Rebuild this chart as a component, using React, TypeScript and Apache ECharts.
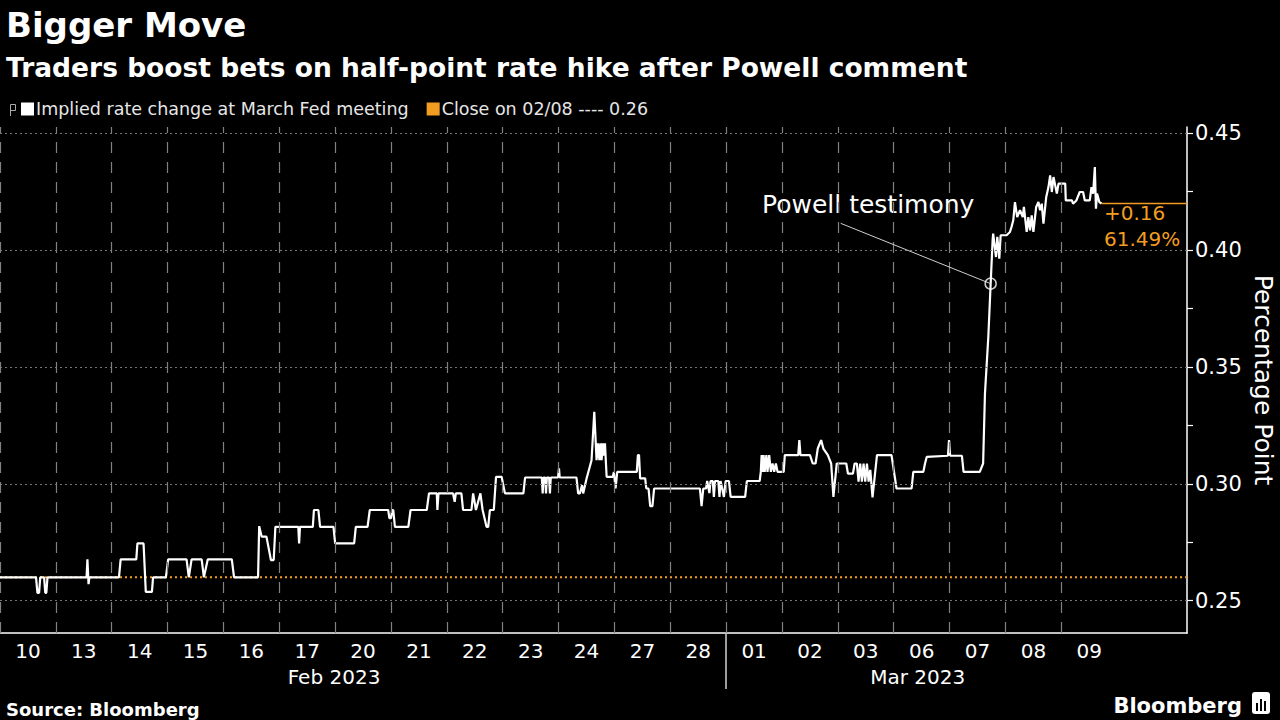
import React, { useEffect, useRef } from "react";
import * as echarts from "echarts";

// ---- data ----
const dayLabels = ["10","13","14","15","16","17","20","21","22","23","24","27","28","01","02","03","06","07","08","09"];
const monthLabels = ["Feb 2023", "Mar 2023"];
const monthCenters = [5.98, 16.43];
const monthBoundary = 13;
const closeValue = 0.26;
const yLabelValues = [0.25, 0.3, 0.35, 0.4, 0.45];

// implied rate change (day offset from Feb 10 open, value in percentage points)
const implied: [number, number][] = [
  [0,0.26],[0.645,0.26],[0.67,0.2534],[0.70,0.2534],[0.72,0.26],
  [0.79,0.26],[0.81,0.2534],[0.83,0.2534],[0.85,0.26],
  [1.55,0.26],[1.565,0.2677],[1.585,0.2571],[1.60,0.26],
  [2.13,0.26],[2.16,0.2677],[2.44,0.2677],[2.46,0.2745],[2.57,0.2745],[2.61,0.2538],
  [2.72,0.2538],[2.74,0.26],[2.97,0.26],[3.01,0.2677],[3.34,0.2677],[3.38,0.26],[3.43,0.2677],
  [3.61,0.2677],[3.65,0.26],[3.72,0.2677],[4.15,0.2677],[4.19,0.26],
  [4.62,0.26],[4.64,0.2819],[4.685,0.2774],[4.77,0.2774],[4.85,0.2674],[4.90,0.2674],[4.93,0.2816],
  [5.34,0.2816],[5.355,0.2745],[5.37,0.2816],[5.60,0.2816],[5.62,0.2888],[5.70,0.2888],[5.73,0.2816],
  [5.97,0.2816],[6.00,0.2745],[6.34,0.2745],[6.37,0.2816],[6.58,0.2816],[6.62,0.2888],
  [6.95,0.2888],[6.97,0.2853],[7.00,0.2853],[7.02,0.2888],[7.04,0.2888],[7.07,0.2816],
  [7.31,0.2816],[7.35,0.2888],[7.64,0.2888],[7.68,0.2959],[7.82,0.2959],[7.83,0.2888],[7.85,0.2959],
  [8.11,0.2959],[8.14,0.2923],[8.16,0.2959],[8.26,0.2959],[8.29,0.2888],[8.44,0.2888],[8.47,0.2959],
  [8.52,0.2888],[8.60,0.2959],[8.64,0.2888],[8.71,0.2816],[8.74,0.2816],[8.77,0.2888],
  [8.84,0.2888],[8.88,0.3030],[8.98,0.3030],[9.04,0.2959],[9.37,0.2959],[9.40,0.3027],
  [9.70,0.3027],[9.715,0.2959],[9.73,0.3027],[9.76,0.3027],[9.775,0.2959],[9.79,0.3027],
  [9.83,0.3027],[9.845,0.2959],[9.86,0.3027],[9.99,0.3027],[10.007,0.3066],[10.02,0.3027],
  [10.32,0.3027],[10.35,0.2959],[10.38,0.2959],[10.42,0.2994],[10.44,0.2959],[10.50,0.3022],
  [10.59,0.3101],[10.639,0.3308],[10.68,0.3101],[10.705,0.3173],[10.73,0.3101],[10.75,0.3173],
  [10.77,0.3101],[10.79,0.3173],[10.81,0.3120],[10.83,0.3173],[10.86,0.3030],
  [10.97,0.3030],[10.99,0.3051],[11.02,0.2980],[11.05,0.3051],[11.40,0.3051],[11.42,0.3123],
  [11.44,0.3123],[11.46,0.3023],[11.55,0.3023],[11.57,0.2980],[11.61,0.2980],[11.64,0.2905],
  [11.68,0.2905],[11.71,0.2980],[12.53,0.2980],[12.56,0.2905],[12.59,0.2980],[12.64,0.2980],
  [12.66,0.3012],[12.70,0.2960],[12.72,0.3012],[12.76,0.3012],[12.78,0.2944],[12.80,0.3012],
  [12.86,0.3012],[12.88,0.2944],[12.90,0.3012],[12.96,0.2944],[12.99,0.3012],[13.05,0.3012],
  [13.08,0.2944],[13.34,0.2944],[13.37,0.3012],[13.60,0.3012],[13.62,0.3051],[13.635,0.3123],
  [13.65,0.3051],[13.67,0.3123],[13.69,0.3051],[13.72,0.3123],[13.74,0.3051],[13.77,0.3123],
  [13.80,0.3051],[13.83,0.3087],[13.86,0.3051],[13.89,0.3087],[13.92,0.3051],[14.03,0.3051],
  [14.05,0.3123],[14.29,0.3123],[14.31,0.3187],[14.33,0.3123],[14.50,0.3123],[14.55,0.3087],
  [14.60,0.3087],[14.64,0.3151],[14.70,0.3187],[14.74,0.3151],[14.82,0.3123],[14.88,0.3087],
  [14.92,0.2944],[14.98,0.3087],[15.15,0.3087],[15.18,0.3044],[15.27,0.3044],[15.30,0.3087],
  [15.34,0.3087],[15.37,0.3009],[15.40,0.3087],[15.43,0.3009],[15.46,0.3087],[15.49,0.3009],
  [15.52,0.3087],[15.55,0.3009],[15.58,0.3060],[15.62,0.2942],[15.70,0.3123],[15.96,0.3123],
  [16.05,0.2980],[16.32,0.2980],[16.35,0.3051],[16.53,0.3051],[16.56,0.3087],[16.59,0.3115],
  [16.97,0.3120],[16.99,0.3187],[17.01,0.3120],[17.22,0.3120],[17.25,0.3051],[17.54,0.3051],
  [17.60,0.3087],[17.633,0.3386],[17.693,0.3628],[17.735,0.3856],[17.77,0.4041],[17.78,0.4070],
  [17.83,0.3970],[17.854,0.4056],[17.89,0.3963],[17.914,0.4063],[18.02,0.4063],[18.08,0.4077],
  [18.11,0.4100],[18.14,0.4127],[18.17,0.4205],[18.21,0.4141],[18.26,0.4170],[18.31,0.4141],
  [18.33,0.4184],[18.38,0.4077],[18.41,0.4141],[18.44,0.4084],[18.47,0.4148],[18.50,0.4077],
  [18.55,0.4184],[18.59,0.4205],[18.62,0.4170],[18.65,0.4198],[18.68,0.4113],[18.73,0.4227],
  [18.77,0.4269],[18.80,0.4319],[18.83,0.4248],[18.86,0.4312],[18.92,0.4241],[18.95,0.4284],
  [19.07,0.4284],[19.08,0.4212],[19.19,0.4212],[19.21,0.4198],[19.27,0.4212],[19.33,0.4248],
  [19.39,0.4248],[19.42,0.4212],[19.51,0.4212],[19.54,0.4269],[19.57,0.4241],[19.60,0.4355],
  [19.62,0.4177],[19.64,0.4241],[19.68,0.4205],[19.72,0.41987]
];
const annotationPoint: [number, number] = [17.735, 0.3856];
const annotationLabelAnchor: [number, number] = [15.05, 0.4114];

const X_MAX = 21.25;
const Y_MIN = 0.2362;
const Y_MAX = 0.4526;
const TICK_MIN = 0.25;
const TICK_MAX = 0.45;
const TICK_STEP = 0.025;

const WHITE = "#ffffff";
const ORANGE = "#f29d22";
const FONT = "'DejaVu Sans', 'Liberation Sans', sans-serif";

export default function App() {
  const ref = useRef<HTMLDivElement>(null);
  useEffect(() => {
    document.body.style.margin = "0";
    document.body.style.background = "#000";
    const chart = echarts.init(ref.current!, undefined, { renderer: "svg" });
    const last = implied[implied.length - 1];
    const change = last[1] - closeValue;
    const pct = (last[1] / closeValue - 1) * 100;

    const dayCenters = dayLabels.map((_, i) => i + 0.5);
    const dayBounds = dayLabels.map((_, i) => i);

    // pixel extent of main plot
    const top0 = 127, bottom0 = 87, H = 720;
    const plotH = H - top0 - bottom0;
    const pxPerUnit = plotH / (Y_MAX - Y_MIN);
    const yPix = (v: number) => top0 + (Y_MAX - v) * pxPerUnit;
    const top1 = yPix(TICK_MAX);
    const bottom1 = H - yPix(TICK_MIN);

    const closeName = `Close on 02/08 ---- ${closeValue.toFixed(2)}`;
    const mainName = "Implied rate change at March Fed meeting";

    const option: any = {
      animation: false,
      backgroundColor: "#000000",
      textStyle: { fontFamily: FONT },
      title: [
        { text: "Bigger Move", left: 1, top: 3, textStyle: { color: WHITE, fontSize: 34, fontWeight: "bold", fontFamily: FONT } },
        { text: "Traders boost bets on half-point rate hike after Powell comment", left: 1, top: 49, textStyle: { color: WHITE, fontSize: 26.5, fontWeight: "bold", fontFamily: FONT } },
        { text: "Source: Bloomberg", left: 1, top: 695, textStyle: { color: WHITE, fontSize: 18, fontWeight: "bold", fontFamily: FONT } },
        { text: "Bloomberg", right: 33, top: 690, textStyle: { color: WHITE, fontSize: 21, fontWeight: "bold", fontFamily: FONT } },
      ],
      legend: {
        left: 16, top: 95, itemWidth: 13, itemHeight: 13, itemGap: 18, icon: "rect",
        textStyle: { color: "#e6e6e6", fontSize: 17.5, fontFamily: FONT, padding: [0, 0, 0, -3] },
        data: [mainName, closeName],
      },
      grid: [
        { left: 0, right: 93, top: top0, bottom: bottom0, containLabel: false, outerBoundsMode: "none" },
        { left: 0, right: 93, top: top1, bottom: bottom1, containLabel: false, outerBoundsMode: "none" },
      ],
      xAxis: [
        {
          type: "value", min: 0, max: X_MAX, gridIndex: 0,
          axisLine: { show: true, onZero: false, lineStyle: { color: WHITE, width: 1.5 } },
          axisTick: { show: true, customValues: [monthBoundary], length: 56, lineStyle: { color: "#d0d0d0", width: 1.5 } },
          axisLabel: {
            customValues: dayCenters, color: WHITE, fontSize: 20, margin: 8, fontFamily: FONT,
            formatter: (v: number) => dayLabels[Math.floor(v)] ?? "",
          },
          splitLine: { show: false },
        },
        {
          type: "value", min: 0, max: X_MAX, position: "bottom", gridIndex: 0,
          axisLine: { show: false, onZero: false }, axisTick: { show: false }, splitLine: { show: false },
          axisLabel: {
            customValues: monthCenters, color: WHITE, fontSize: 20, margin: 34, fontFamily: FONT,
            formatter: (v: number) => monthLabels[monthCenters.indexOf(v)] ?? "",
          },
        },
        {
          type: "value", min: 0, max: X_MAX, gridIndex: 1, show: false,
          axisLine: { onZero: false },
        },
      ],
      yAxis: [
        {
          type: "value", position: "right", min: Y_MIN, max: Y_MAX, gridIndex: 0,
          name: "Percentage Point", nameLocation: "middle", nameRotate: -90, nameGap: 64,
          nameTextStyle: { color: WHITE, fontSize: 25, fontFamily: FONT },
          axisLine: { show: true, onZero: false, lineStyle: { color: WHITE, width: 1.5 } },
          axisTick: { show: false },
          axisLabel: { show: false },
          splitLine: { show: false },
        },
        {
          type: "value", position: "right", min: TICK_MIN, max: TICK_MAX, interval: TICK_STEP, gridIndex: 1,
          axisLine: { show: false, onZero: false },
          axisTick: { show: true, inside: false, length: 6, lineStyle: { color: WHITE, width: 1.2 } },
          axisLabel: {
            color: WHITE, fontSize: 21, margin: 8, fontFamily: FONT,
            formatter: (v: number) => (yLabelValues.some((l) => Math.abs(l - v) < 1e-6) ? v.toFixed(2) : ""),
          },
          splitLine: { show: false },
        },
      ],
      series: [
        {
          name: closeName,
          type: "line", z: 2, showSymbol: false, silent: true,
          itemStyle: { color: ORANGE },
          lineStyle: { color: ORANGE, width: 2, type: [2, 3] },
          data: [[0, closeValue], [X_MAX, closeValue]],
          markLine: {
            silent: true, symbol: "none", label: { show: false },
            data: [
              ...yLabelValues.map((v) => ({ yAxis: v, lineStyle: { color: "#767676", width: 1, type: [2, 3] } })),
              ...dayBounds.map((d) => ({ xAxis: d, lineStyle: { color: "#808080", width: 1.2, type: [11, 9] } })),
            ],
          },
        },
        {
          name: mainName,
          type: "line", z: 4, showSymbol: false, silent: true,
          itemStyle: { color: WHITE },
          lineStyle: { color: WHITE, width: 2.2 },
          data: implied,
        },
        {
          name: "last",
          type: "line", z: 3, showSymbol: false, silent: true,
          lineStyle: { color: ORANGE, width: 1.5 },
          data: [[last[0], last[1]], [X_MAX, last[1]]],
        },
        {
          name: "annotation",
          type: "scatter", z: 5, silent: true,
          symbol: "circle", symbolSize: 11,
          itemStyle: { color: "rgba(0,0,0,0)", borderColor: WHITE, borderWidth: 1.5 },
          data: [annotationPoint],
          markLine: {
            silent: true, symbol: "none", label: { show: false },
            lineStyle: { color: "#cfcfcf", width: 1, type: "solid" },
            data: [[{ coord: annotationLabelAnchor }, { coord: annotationPoint }]],
          },
        },
      ],
      graphic: [
        { type: "text", left: 762, top: 192, style: { text: "Powell testimony", fill: WHITE, fontSize: 25, fontFamily: FONT } },
        { type: "text", left: 1104, top: 203, style: { text: `+${change.toFixed(2)}`, fill: ORANGE, fontSize: 20, fontFamily: FONT } },
        { type: "text", left: 1104, top: 229, style: { text: `${pct.toFixed(2)}%`, fill: ORANGE, fontSize: 20, fontFamily: FONT } },
        { type: "rect", left: 8, top: 102, shape: { width: 5, height: 6 }, style: { fill: "none", stroke: "#aaaaaa", lineWidth: 1 } },
        { type: "line", shape: { x1: 10.5, y1: 108, x2: 10.5, y2: 116 }, style: { stroke: "#aaaaaa", lineWidth: 1 } },
        { type: "rect", left: 1252, top: 692, shape: { width: 18, height: 22, r: 3 }, style: { fill: WHITE } },
        { type: "rect", left: 1256, top: 703, shape: { width: 2, height: 8 }, style: { fill: "#000" } },
        { type: "rect", left: 1260, top: 699, shape: { width: 2, height: 12 }, style: { fill: "#000" } },
        { type: "rect", left: 1264, top: 701, shape: { width: 2, height: 10 }, style: { fill: "#000" } },
      ],
    };
    chart.setOption(option);
    return () => chart.dispose();
  }, []);
  return <div ref={ref} style={{ width: 1280, height: 720, background: "#000" }} />;
}
